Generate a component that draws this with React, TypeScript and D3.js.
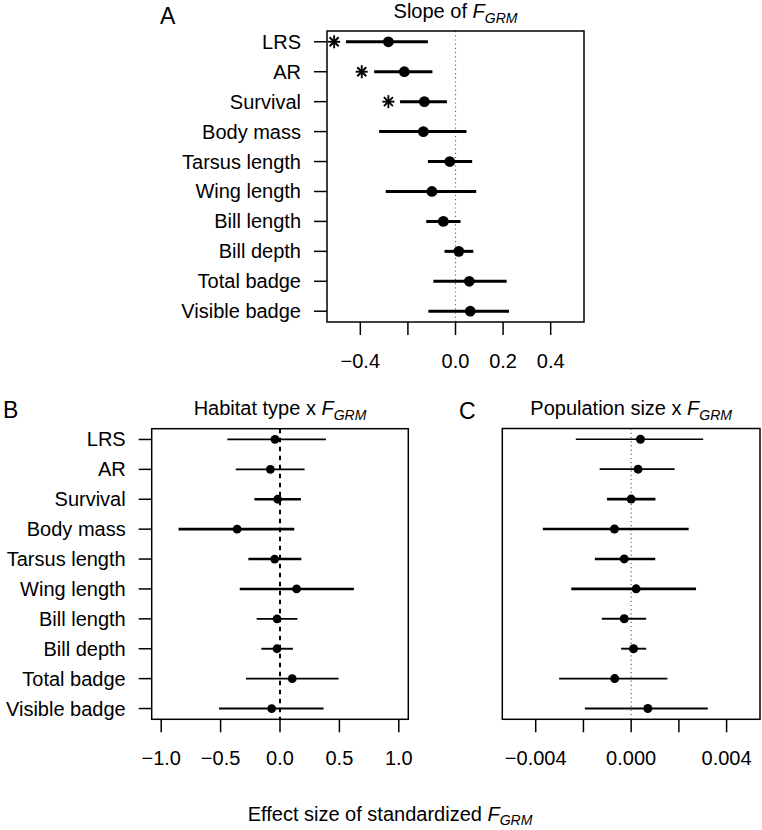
import React from "react";
import * as d3 from "d3";

const categories = [
  "LRS", "AR", "Survival", "Body mass", "Tarsus length",
  "Wing length", "Bill length", "Bill depth", "Total badge", "Visible badge",
];

// Panel A: slope of F_GRM
const slopeEst = [-0.282, -0.215, -0.131, -0.135, -0.024, -0.099, -0.051, 0.014, 0.058, 0.062];
const slopeLo = [-0.46, -0.342, -0.233, -0.321, -0.116, -0.293, -0.123, -0.046, -0.093, -0.114];
const slopeHi = [-0.116, -0.097, -0.036, 0.046, 0.07, 0.087, 0.021, 0.075, 0.215, 0.225];
const slopeStarAt = [-0.51, -0.394, -0.282, null, null, null, null, null, null, null];

// Panel B: habitat type x F_GRM
const habitatEst = [-0.042, -0.081, -0.02, -0.361, -0.045, 0.14, -0.025, -0.025, 0.103, -0.07];
const habitatLo = [-0.443, -0.372, -0.216, -0.854, -0.266, -0.339, -0.196, -0.157, -0.286, -0.513];
const habitatHi = [0.387, 0.207, 0.176, 0.12, 0.179, 0.622, 0.146, 0.109, 0.493, 0.367];

// Panel C: population size x F_GRM
const popEst = [0.00039, 0.00029, 0.0, -0.0007, -0.00029, 0.00021, -0.00029, 0.0001, -0.00069, 0.0007];
const popLo = [-0.00232, -0.00132, -0.00101, -0.0037, -0.00152, -0.00251, -0.00123, -0.00042, -0.00302, -0.00194];
const popHi = [0.00302, 0.00182, 0.00102, 0.00241, 0.00101, 0.00272, 0.00063, 0.00063, 0.00152, 0.00321];

const slopeTicks = [-0.4, -0.2, 0.0, 0.2, 0.4];
const slopeTickLabels = ["−0.4", "", "0.0", "0.2", "0.4"];
const habitatTicks = [-1.0, -0.5, 0.0, 0.5, 1.0];
const habitatTickLabels = ["−1.0", "−0.5", "0.0", "0.5", "1.0"];
const popTicks = [-0.004, -0.002, 0.0, 0.002, 0.004];
const popTickLabels = ["−0.004", "", "0.000", "", "0.004"];

const FONT = "'Liberation Sans', Arial, Helvetica, sans-serif";
// style: stroke weight per row in panels B and C (visual match)
const rowWeightBC = [1.7, 1.7, 2.6, 2.6, 2.6, 2.6, 1.9, 1.9, 1.9, 1.9];

type PanelProps = {
  box: { l: number; r: number; t: number; b: number };
  xlim: [number, number];
  ticks: number[];
  tickLabels: string[];
  est: number[];
  lo: number[];
  hi: number[];
  stars?: (number | null)[];
  showY: boolean;
  zeroStyle: "dotted" | "dashed";
  radius: number;
  weights: number[];
  titleMain: string;
  letter: string;
  letterPos: [number, number];
};

function Panel(p: PanelProps) {
  const { box } = p;
  const pad = (p.xlim[1] - p.xlim[0]) * 0.04;
  const x = d3.scaleLinear().domain([p.xlim[0] - pad, p.xlim[1] + pad]).range([box.l, box.r]);
  const y = d3.scaleLinear().domain([1 - 0.36, 10 + 0.36]).range([box.t, box.b]);
  const cx = (box.l + box.r) / 2;
  return (
    <g fontFamily={FONT}>
      <text x={p.letterPos[0]} y={p.letterPos[1]} fontSize={23}>{p.letter}</text>
      <text x={cx} y={box.t - 13.5} fontSize={20} textAnchor="middle">
        {p.titleMain}
        <tspan fontStyle="italic">F</tspan>
        <tspan fontStyle="italic" fontSize={14} dy={5}>GRM</tspan>
      </text>
      {/* zero line */}
      <line
        x1={x(0)} x2={x(0)} y1={box.t} y2={box.b}
        stroke={p.zeroStyle === "dotted" ? "#666" : "#000"}
        strokeWidth={p.zeroStyle === "dotted" ? 1.2 : 2}
        strokeDasharray={p.zeroStyle === "dotted" ? "1.2,3" : "4.5,4.5"}
      />
      {/* error bars */}
      {categories.map((c, i) => (
        <g key={c}>
          <line x1={x(p.lo[i])} x2={x(p.hi[i])} y1={y(i + 1)} y2={y(i + 1)} stroke="#000" strokeWidth={p.weights[i]} />
          <circle cx={x(p.est[i])} cy={y(i + 1)} r={p.radius} fill="#000" />
          {p.stars && p.stars[i] != null && (
            <g transform={`translate(${x(p.stars[i] as number)},${y(i + 1)})`} stroke="#000" strokeWidth={1.9}>
              <line x1={-6} x2={6} y1={0} y2={0} />
              <line x1={0} x2={0} y1={-6.5} y2={6.5} />
              <line x1={-4.5} x2={4.5} y1={-4.5} y2={4.5} />
              <line x1={-4.5} x2={4.5} y1={4.5} y2={-4.5} />
            </g>
          )}
        </g>
      ))}
      {/* box */}
      <rect x={box.l} y={box.t} width={box.r - box.l} height={box.b - box.t} fill="none" stroke="#000" strokeWidth={1.5} />
      {/* x axis */}
      {p.ticks.map((t, i) => (
        <g key={t}>
          <line x1={x(t)} x2={x(t)} y1={box.b} y2={box.b + 13} stroke="#000" strokeWidth={1.5} />
          <text x={x(t)} y={box.b + 46} fontSize={20} textAnchor="middle">{p.tickLabels[i]}</text>
        </g>
      ))}
      {/* y axis */}
      {p.showY && categories.map((c, i) => (
        <g key={c}>
          <line x1={box.l - 13} x2={box.l} y1={y(i + 1)} y2={y(i + 1)} stroke="#000" strokeWidth={1.5} />
          <text x={box.l - 26} y={y(i + 1) + 7} fontSize={20} textAnchor="end">{c}</text>
        </g>
      ))}
    </g>
  );
}

export default function App() {
  const w3 = categories.map(() => 3);
  return (
    <svg width={762} height={830} style={{ position: "absolute", left: 0, top: 0, background: "#fff" }}>
      <rect width={762} height={830} fill="#fff" />
      <Panel
        box={{ l: 327, r: 584, t: 31, b: 322 }}
        xlim={[-0.5, 0.5]}
        ticks={slopeTicks}
        tickLabels={slopeTickLabels}
        est={slopeEst}
        lo={slopeLo}
        hi={slopeHi}
        stars={slopeStarAt}
        showY={true}
        zeroStyle="dotted"
        radius={5.4}
        weights={w3}
        titleMain="Slope of "
        letter="A"
        letterPos={[160, 24]}
      />
      <Panel
        box={{ l: 151.7, r: 408.3, t: 428.7, b: 719.3 }}
        xlim={[-1, 1]}
        ticks={habitatTicks}
        tickLabels={habitatTickLabels}
        est={habitatEst}
        lo={habitatLo}
        hi={habitatHi}
        showY={true}
        zeroStyle="dashed"
        radius={4.4}
        weights={rowWeightBC}
        titleMain="Habitat type x "
        letter="B"
        letterPos={[3, 418]}
      />
      <Panel
        box={{ l: 502.3, r: 760, t: 428.5, b: 719.3 }}
        xlim={[-0.005, 0.005]}
        ticks={popTicks}
        tickLabels={popTickLabels}
        est={popEst}
        lo={popLo}
        hi={popHi}
        showY={false}
        zeroStyle="dotted"
        radius={4.5}
        weights={rowWeightBC}
        titleMain="Population size x "
        letter="C"
        letterPos={[459, 419]}
      />
      <text x={390} y={821} fontSize={20} textAnchor="middle" fontFamily={FONT}>
        Effect size of standardized <tspan fontStyle="italic">F</tspan>
        <tspan fontStyle="italic" fontSize={14} dy={4}>GRM</tspan>
      </text>
    </svg>
  );
}
